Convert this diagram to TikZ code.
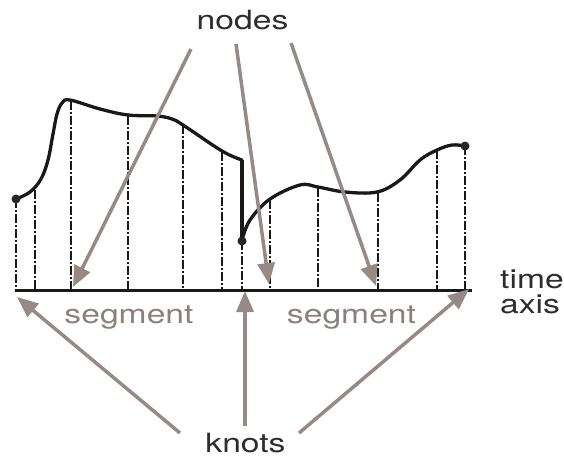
\documentclass[tikz,border=0pt]{standalone}
\usepackage{fontspec}
\setmainfont[FakeStretch=1.27]{TeX Gyre Heros}
\usetikzlibrary{arrows.meta}
\definecolor{txtdark}{RGB}{45,45,45}
\definecolor{pointer}{RGB}{150,138,134}
\definecolor{seggray}{RGB}{140,128,125}
\begin{document}
\begin{tikzpicture}[x=1pt,y=-1pt,
  lbl/.style={inner sep=0pt,font=\fontsize{26.5}{30}\selectfont,text=txtdark},
  seglbl/.style={lbl,text=seggray},
  curveline/.style={line width=3.3pt,black!90,line join=round,line cap=round},
  gridline/.style={line width=2.4pt,black!90,dash pattern=on 9pt off 2pt on 2pt off 2pt},
  pointarrow/.style={line width=3.5pt,pointer,-{Triangle[length=21pt,width=17pt]}},
  knotdot/.style={circle,fill=black!85,inner sep=0pt,minimum size=9pt}]
\useasboundingbox (0,0) rectangle (564,459);

% axis
\coordinate (ax0) at (15,290);
\coordinate (ax1) at (472,290);
\draw[line width=3pt,black!90] (ax0) -- (ax1);

% vertical grid lines
\foreach \x/\t in {16/199,35/190,71/101,128/116,183/125,222/152,242/241,270/200,318/188,378/193,437/150,465/146}{
  \draw[gridline] (\x,\t) -- (\x,290);
}

% left segment curve
\draw[curveline] plot[smooth,tension=0.6] coordinates {(16,199) (30,192) (41,179) (48,160) (53,134) (57,114) (62,103) (70,100) (100,109) (128,115) (157,116) (172,119) (183,125) (222,151) (242,160)};
\draw[line width=4pt,black!90] (242,160) -- (242,241);
% right segment curve
\draw[curveline] plot[smooth,tension=0.6] coordinates {(242,240) (250,220) (270,199) (300,185) (318,187) (345,192) (377,192) (400,180) (420,160) (437,150) (452,145) (465,146)};

\node[knotdot] (k1) at (16,199) {};
\node[knotdot] (k2) at (242,241) {};
\node[knotdot] (k3) at (465,146) {};

% labels
\node[lbl,anchor=base] (nodes) at (242.5,29) {nodes};
\node[seglbl,anchor=base] (seg1) at (129,323) {segment};
\node[seglbl,anchor=base] (seg2) at (351.5,323) {segment};
\node[lbl,anchor=base] (knots) at (245.5,452) {knots};
\node[lbl,anchor=base west] (time) at (500,288) {time};
\node[lbl,anchor=base west] (axis) at (500,313) {axis};

% arrows from nodes
\coordinate (n1s) at (191,49);
\coordinate (n2s) at (236,44);
\coordinate (n3s) at (291,43);
\coordinate (n1e) at (73,287);
\coordinate (n2e) at (269,284);
\coordinate (n3e) at (376,286);
\draw[pointarrow] (n1s) -- (n1e);
\draw[pointarrow] (n2s) -- (n2e);
\draw[pointarrow] (n3s) -- (n3e);

% arrows to knots
\coordinate (k1s) at (180,433);
\coordinate (k2s) at (245,426);
\coordinate (k3s) at (299,433);
\coordinate (k1e) at (17,297);
\coordinate (k2e) at (245,291);
\coordinate (k3e) at (469,289);
\draw[pointarrow] (k1s) -- (k1e);
\draw[pointarrow] (k2s) -- (k2e);
\draw[pointarrow] (k3s) -- (k3e);
\end{tikzpicture}
\end{document}
